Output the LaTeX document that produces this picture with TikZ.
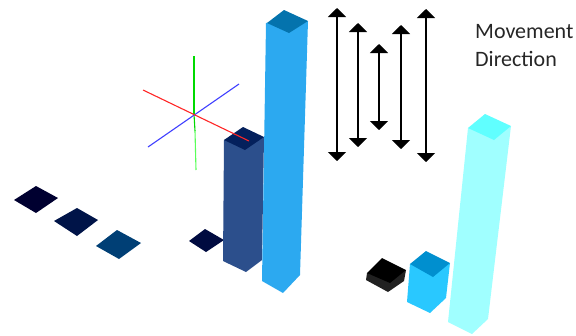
\documentclass[tikz,border=0pt]{standalone}
\usepackage{fontspec}
\setmainfont{Carlito}
\usetikzlibrary{arrows.meta, positioning}

\definecolor{tallblue}{HTML}{2CA9F0}
\definecolor{talltop}{HTML}{0473AD}
\definecolor{navyside}{HTML}{2C4F8C}
\definecolor{navytop}{HTML}{04205C}
\definecolor{cyanside}{HTML}{A0FFFF}
\definecolor{cyantop}{HTML}{60FFFF}
\definecolor{midside}{HTML}{29C8FF}
\definecolor{midtop}{HTML}{008FCF}
\definecolor{tileA}{HTML}{000030}
\definecolor{tileB}{HTML}{001448}
\definecolor{tileC}{HTML}{003F75}
\definecolor{tileD}{HTML}{000B40}

\begin{document}
\begin{tikzpicture}[
    x=1pt, y=-1pt,
    dirarrow/.style={{Triangle[width=18pt,length=9pt]}-{Triangle[width=18pt,length=9pt]}, line width=1.1pt, color=black},
    axisline/.style={line width=1.1pt},
    label/.style={font=\fontsize{22}{28}\selectfont, align=left, text=black!85, inner sep=0pt}
]
\useasboundingbox (0,0) rectangle (576,335);

% floor tiles
\fill[tileA] (14,200) -- (36,186) -- (58,198) -- (36,213) -- cycle;
\fill[tileB] (54,221) -- (77,208) -- (98,220) -- (77,236) -- cycle;
\fill[tileC] (96,246) -- (117,230) -- (141,243) -- (119,259) -- cycle;
\fill[tileD] (189,241) -- (205,229) -- (224,240) -- (206,252) -- cycle;

% axes
\draw[axisline, green!85!black] (194,56) -- (194,114);
\draw[axisline, green!65!white] (195,131) -- (196,170);
\draw[axisline, green!85!black] (194,114) -- (195,131);
\draw[axisline, blue!75!white] (148,147) -- (239,84);

% navy column
\fill[navyside] (224,140) -- (264,137) -- (262,260) -- (246,272) -- (223,261) -- cycle;
\fill[navytop] (224,140) -- (243,127) -- (264,137) -- (245,150) -- cycle;
\draw[axisline, red!85!white] (143,90) -- (249,141);

% tall column
\fill[tallblue] (266,23) -- (308,21) -- (300,275) -- (283,293) -- (262,281) -- cycle;
\fill[talltop] (267,23) -- (284,10) -- (308,21) -- (289,33) -- cycle;

% right group
\fill[black!87] (367,273) -- (406,270) -- (404,281) -- (388,292) -- (366,280) -- cycle;
\fill[black] (367,273) -- (382,258) -- (406,270) -- (390,283) -- cycle;
\fill[midside] (410,264) -- (450,263) -- (446,298) -- (430,313) -- (407,302) -- cycle;
\fill[midtop] (410,264) -- (426,251) -- (450,263) -- (433,277) -- cycle;
\fill[cyanside] (468,128) -- (511,126) -- (488,319) -- (472,334) -- (448,322) -- cycle;
\fill[cyantop] (468,128) -- (485,114) -- (511,126) -- (494,140) -- cycle;

% movement arrows
\coordinate (arrowAtop) at (337,8);
\coordinate (arrowAbot) at (337,161);
\coordinate (arrowBtop) at (358,23);
\coordinate (arrowBbot) at (358,147);
\coordinate (arrowCtop) at (379,44);
\coordinate (arrowCbot) at (379,130);
\coordinate (arrowDtop) at (401,25);
\coordinate (arrowDbot) at (401,149);
\coordinate (arrowEtop) at (426,9);
\coordinate (arrowEbot) at (426,162);

\draw[dirarrow] (arrowAtop) -- (arrowAbot);
\draw[dirarrow] (arrowBtop) -- (arrowBbot);
\draw[dirarrow] (arrowCtop) -- (arrowCbot);
\draw[dirarrow] (arrowDtop) -- (arrowDbot);
\draw[dirarrow] (arrowEtop) -- (arrowEbot);

\node[label, anchor=north west] (direction) at (475,24) {Movement\\Direction};

\end{tikzpicture}
\end{document}
